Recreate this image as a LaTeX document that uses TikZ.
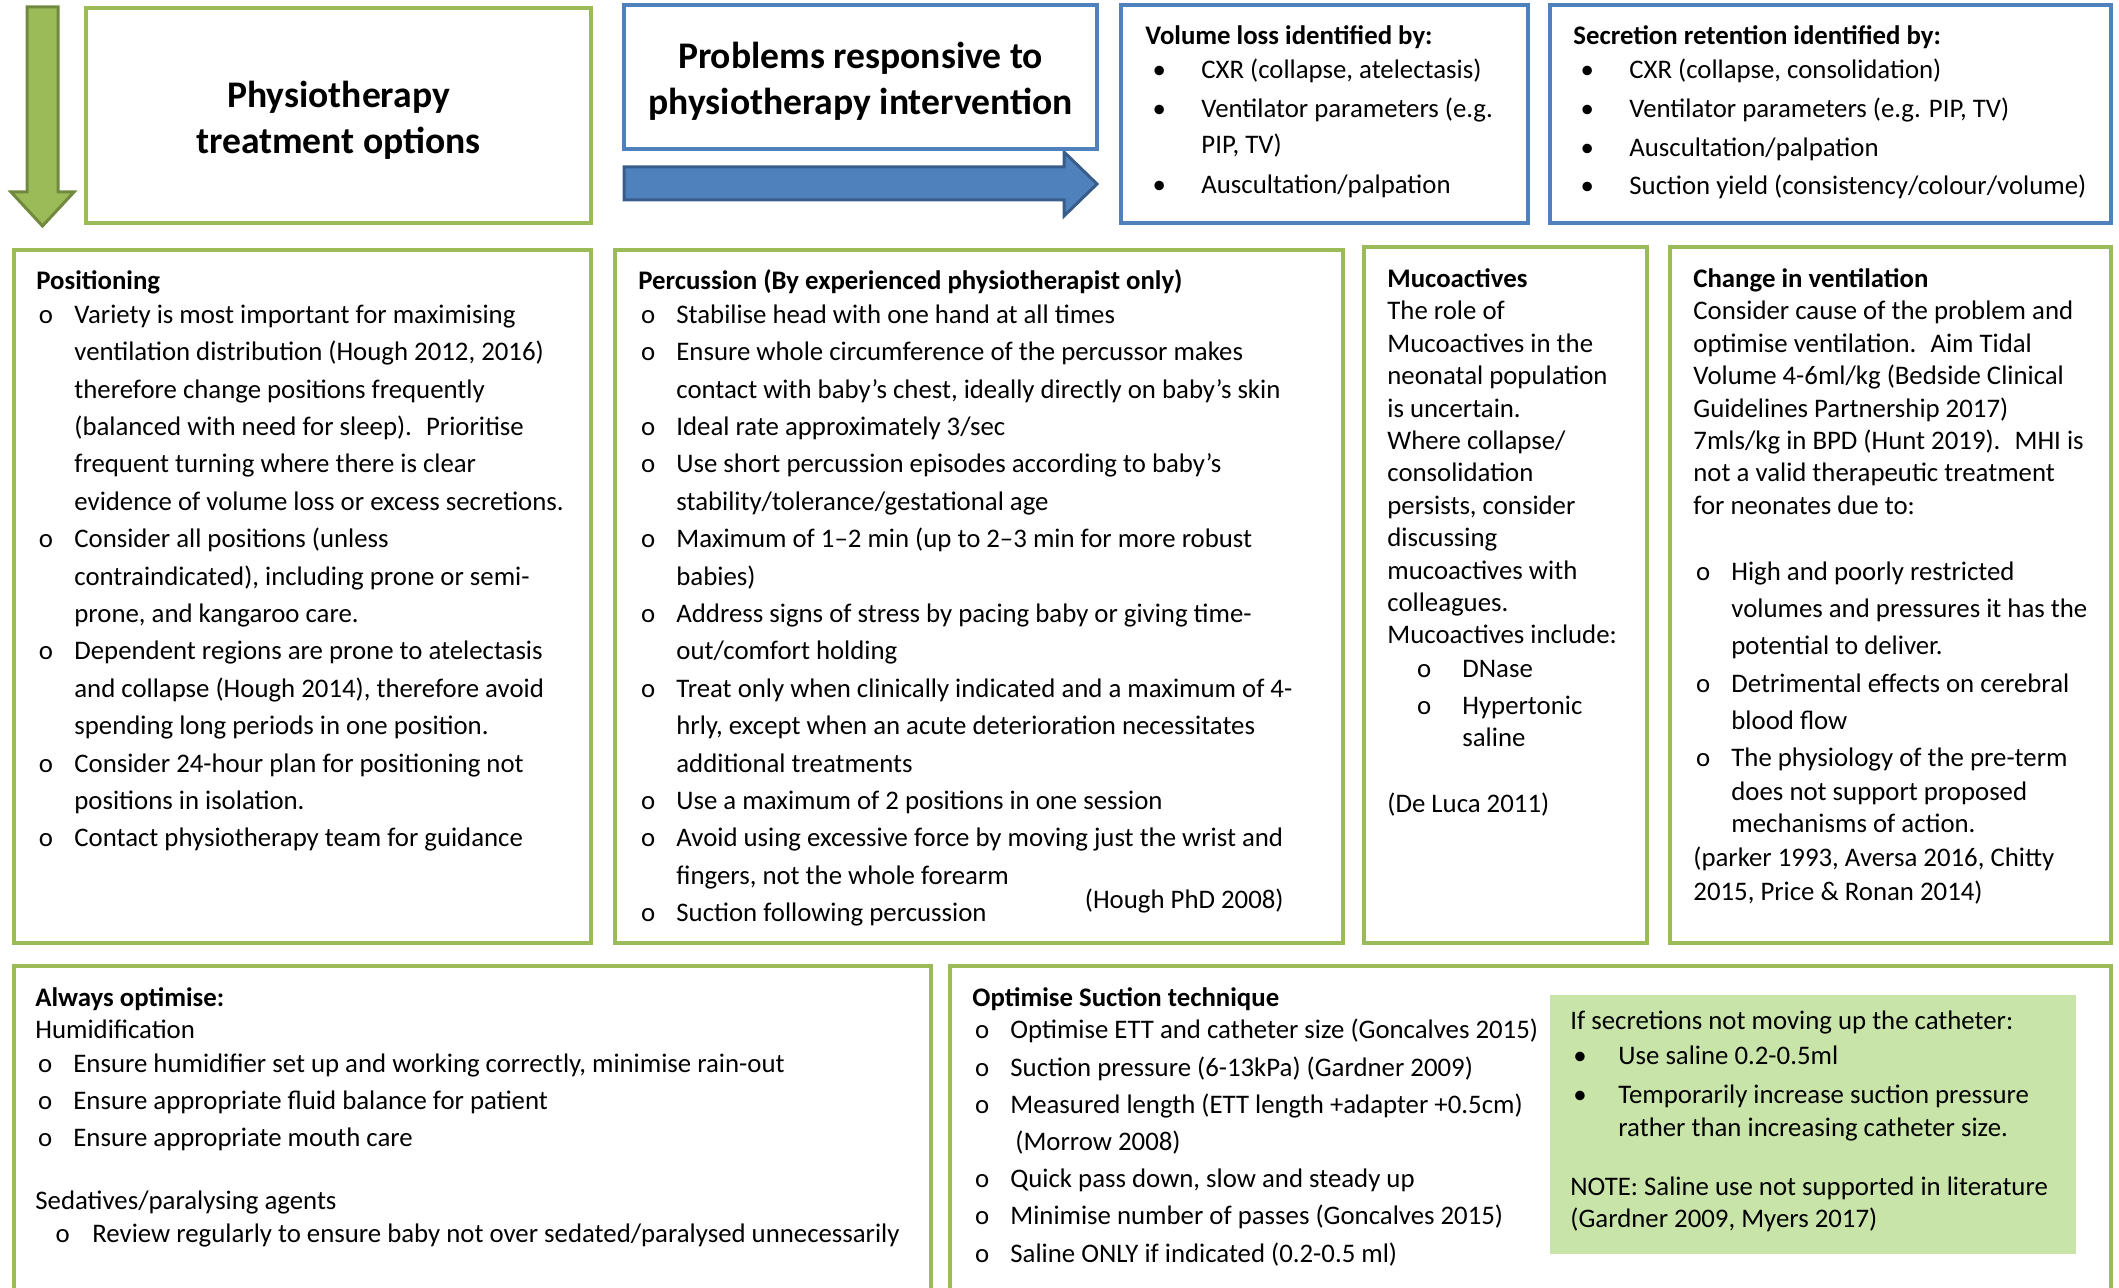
\documentclass[tikz,border=0pt]{standalone}
\usepackage{fontspec}
\setmainfont{Carlito}
\usetikzlibrary{fit}

\definecolor{olivegreen}{HTML}{9BBB59}
\definecolor{olivedark}{HTML}{71893F}
\definecolor{steelblue}{HTML}{4F81BD}
\definecolor{steeldark}{HTML}{385D8A}
\definecolor{palegreen}{HTML}{C8E4A8}

\newcommand{\bodyfont}{\fontsize{13.4}{18.7}\selectfont}
\newcommand{\tightfont}{\fontsize{13.4}{16.2}\selectfont}
\newcommand{\ob}[1]{\hspace*{1.3pt}\makebox[17.7pt][l]{o}#1}
\newcommand{\oc}[1]{\hspace*{19pt}#1}
\newcommand{\vb}[1]{\hspace*{3.6pt}\makebox[24.4pt][l]{•}#1}

% text blocks: the point given is the first baseline
\tikzset{
  greenbox/.style={draw=olivegreen, line width=2.2pt, inner sep=0pt},
  bluebox/.style={draw=steelblue, line width=2.2pt, inner sep=0pt},
  body/.style={anchor=north west, yshift=7.85pt, inner sep=0pt, align=left,
    font=\bodyfont, execute at begin node=\strut},
  tight/.style={anchor=north west, yshift=7.85pt, inner sep=0pt, align=left,
    font=\tightfont, execute at begin node=\strut},
  heading/.style={inner sep=0pt, align=center, font=\fontsize{18.8}{23}\selectfont\bfseries}
}

\begin{document}
\begin{tikzpicture}[x=0.5pt,y=-0.5pt]
  \useasboundingbox (0,0) rectangle (2119,1288);

  % block arrows
  \draw[fill=olivegreen, draw=olivedark, line width=1.5pt]
    (27,7) -- (58,7) -- (58,192) -- (74,192) -- (42.5,226) -- (11,192) -- (27,192) -- cycle;
  \draw[fill=steelblue, draw=steeldark, line width=1.5pt]
    (624,167) -- (1064,167) -- (1064,152) -- (1097,184) -- (1064,216) -- (1064,200) -- (624,200) -- cycle;

  % top row
  \node[greenbox, fit={(86,8) (591,223)}] (treat) {};
  \node[bluebox, fit={(624,5) (1097,149)}] (problems) {};
  \node[bluebox, fit={(1121,5) (1528,223)}] (volume) {};
  \node[bluebox, fit={(1550,5) (2111,223)}] (secretion) {};

  \node[heading] (treatTitle) at ([yshift=-2.2pt]treat.center) {Physiotherapy\\treatment options};
  \node[heading] (problemsTitle) at ([yshift=-2.3pt]problems.center) {Problems responsive to\\physiotherapy intervention};

  \node[body] (volumeText) at (1145,41) {\textbf{Volume loss identified by:}\\[-1.8pt]
    \vb{CXR (collapse, atelectasis)}\\[0.9pt]
    \vb{Ventilator parameters (e.g.}\\[-0.5pt]
    \hspace*{28pt}PIP, TV)\\[0.9pt]
    \vb{Auscultation/palpation}};
  \node[body] (secretionText) at (1573,41) {\textbf{Secretion retention identified by:}\\[-1.8pt]
    \vb{CXR (collapse, consolidation)}\\[0.9pt]
    \vb{Ventilator parameters (e.g. PIP, TV)}\\[0.9pt]
    \vb{Auscultation/palpation}\\[0.4pt]
    \vb{Suction yield (consistency/colour/volume)}};

  % middle row
  \node[greenbox, fit={(14,250) (591,943)}] (positioning) {};
  \node[greenbox, fit={(615,250) (1343,943)}] (percussion) {};
  \node[greenbox, fit={(1364,247) (1647,943)}] (mucoact) {};
  \node[greenbox, fit={(1670,247) (2111,943)}] (ventil) {};

  \node[body] (positioningText) at (36,286) {\textbf{Positioning}\\[-1.8pt]
    \ob{Variety is most important for maximising}\\
    \oc{ventilation distribution (Hough 2012, 2016)}\\
    \oc{therefore change positions frequently}\\
    \oc{(balanced with need for sleep).~ Prioritise}\\
    \oc{frequent turning where there is clear}\\
    \oc{evidence of volume loss or excess secretions.}\\
    \ob{Consider all positions (unless}\\
    \oc{contraindicated), including prone or semi-}\\
    \oc{prone, and kangaroo care.}\\
    \ob{Dependent regions are prone to atelectasis}\\
    \oc{and collapse (Hough 2014), therefore avoid}\\
    \oc{spending long periods in one position.}\\
    \ob{Consider 24-hour plan for positioning not}\\
    \oc{positions in isolation.}\\
    \ob{Contact physiotherapy team for guidance}};

  \node[body] (percussionText) at (638,285) {\textbf{Percussion (By experienced physiotherapist only)}\\[-1.8pt]
    \ob{Stabilise head with one hand at all times}\\
    \ob{Ensure whole circumference of the percussor makes}\\
    \oc{contact with baby’s chest, ideally directly on baby’s skin}\\
    \ob{Ideal rate approximately 3/sec}\\
    \ob{Use short percussion episodes according to baby’s}\\
    \oc{stability/tolerance/gestational age}\\
    \ob{Maximum of 1–2 min (up to 2–3 min for more robust}\\
    \oc{babies)}\\
    \ob{Address signs of stress by pacing baby or giving time-}\\
    \oc{out/comfort holding}\\
    \ob{Treat only when clinically indicated and a maximum of 4-}\\
    \oc{hrly, except when an acute deterioration necessitates}\\
    \oc{additional treatments}\\
    \ob{Use a maximum of 2 positions in one session}\\
    \ob{Avoid using excessive force by moving just the wrist and}\\
    \oc{fingers, not the whole forearm}\\
    \ob{Suction following percussion}};
  \node[font=\bodyfont, inner sep=0pt, anchor=base east] (houghRef) at (1284,908) {(Hough PhD 2008)};

  \node[tight] (mucoactText) at (1387,284) {\textbf{Mucoactives}\\
    The role of\\
    Mucoactives in the\\
    neonatal population\\
    is uncertain.\\
    Where collapse/\\
    consolidation\\
    persists, consider\\
    discussing\\
    mucoactives with\\
    colleagues.\\
    Mucoactives include:\\[0.7pt]
    \hspace*{14.8pt}\makebox[22.7pt][l]{o}DNase\\[2pt]
    \hspace*{14.8pt}\makebox[22.7pt][l]{o}Hypertonic\\
    \hspace*{37.5pt}saline\\[16.9pt]
    (De Luca 2011)};

  \node[tight] (ventilText) at (1693,284) {\textbf{Change in ventilation}\\
    Consider cause of the problem and\\
    optimise ventilation.~ Aim Tidal\\
    Volume 4-6ml/kg (Bedside Clinical\\
    Guidelines Partnership 2017)\\
    7mls/kg in BPD (Hunt 2019).~ MHI is\\
    not a valid therapeutic treatment\\
    for neonates due to:\\[16.9pt]
    \ob{High and poorly restricted}\\[2.4pt]
    \oc{volumes and pressures it has the}\\[2.4pt]
    \oc{potential to deliver.}\\[2.4pt]
    \ob{Detrimental effects on cerebral}\\[2.4pt]
    \oc{blood flow}\\[2.4pt]
    \ob{The physiology of the pre-term}\\[0.7pt]
    \oc{does not support proposed}\\
    \oc{mechanisms of action.}\\[0.7pt]
    (parker 1993, Aversa 2016, Chitty\\[0.7pt]
    2015, Price \& Ronan 2014)};

  % bottom row
  \node[greenbox, fit={(14,966) (931,1290)}] (optimise) {};
  \node[greenbox, fit={(950,966) (2111,1290)}] (suction) {};
  \fill[palegreen] (1550,995) rectangle (2076,1254);
  \coordinate (salinebox) at (1550,995);

  \node[tight] (optimiseText) at (35,1003) {\textbf{Always optimise:}\\
    Humidification\\[0.7pt]
    \ob{Ensure humidifier set up and working correctly, minimise rain-out}\\[2pt]
    \ob{Ensure appropriate fluid balance for patient}\\[2.5pt]
    \ob{Ensure appropriate mouth care}\\[15.5pt]
    Sedatives/paralysing agents\\
    \hspace*{10.1pt}\makebox[18.4pt][l]{o}Review regularly to ensure baby not over sedated/paralysed unnecessarily};

  \node[body] (suctionText) at (972,1003) {\textbf{Optimise Suction technique}\\[-2.5pt]
    \ob{Optimise ETT and catheter size (Goncalves 2015)}\\
    \ob{Suction pressure (6-13kPa) (Gardner 2009)}\\
    \ob{Measured length (ETT length +adapter +0.5cm)}\\[-0.5pt]
    \hspace*{21.5pt}(Morrow 2008)\\
    \ob{Quick pass down, slow and steady up}\\
    \ob{Minimise number of passes (Goncalves 2015)}\\
    \ob{Saline ONLY if indicated (0.2-0.5 ml)}};

  \node[tight] (salineText) at ([shift={(20,31)}]salinebox) {If secretions not moving up the catheter:\\[1.4pt]
    \hspace*{1.5pt}\makebox[22.5pt][l]{•}Use saline 0.2-0.5ml\\[3.4pt]
    \hspace*{1.5pt}\makebox[22.5pt][l]{•}Temporarily increase suction pressure\\
    \hspace*{24pt}rather than increasing catheter size.\\[13.5pt]
    NOTE: Saline use not supported in literature\\
    (Gardner 2009, Myers 2017)};
\end{tikzpicture}
\end{document}
